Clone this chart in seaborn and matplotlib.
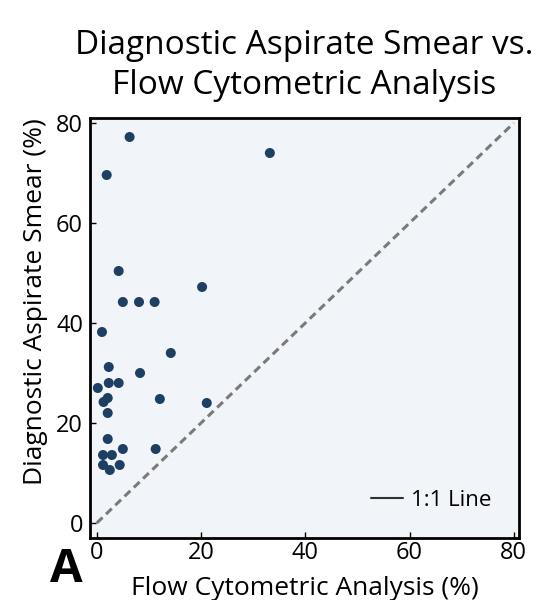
import matplotlib
matplotlib.use('Agg')
import matplotlib.pyplot as plt
import seaborn as sns
import pandas as pd
from matplotlib.lines import Line2D

# values
flow = [6.3, 1.9, 33.2, 4.2, 5.0, 8.1, 11.1, 20.2, 1.0, 14.2, 2.3, 8.3, 2.3, 4.2,
        0.2, 1.3, 2.1, 12.1, 2.1, 21.1, 2.1, 5.0, 11.3, 1.2, 2.9, 1.2, 2.5, 4.4]
smear = [77.2, 69.6, 74.0, 50.4, 44.2, 44.2, 44.2, 47.2, 38.2, 34.0, 31.2, 30.0, 28.0, 28.0,
         27.0, 24.2, 25.0, 24.8, 22.0, 24.0, 16.8, 14.8, 14.8, 13.6, 13.6, 11.6, 10.6, 11.6]
ref_line = [0, 80]
ticks = [0, 20, 40, 60, 80]

data = pd.DataFrame({'flow': flow, 'smear': smear})

sns.set_style('ticks')
plt.rcParams['font.family'] = ['Open Sans', 'DejaVu Sans']
plt.rcParams['text.color'] = 'black'
plt.rcParams['axes.labelcolor'] = 'black'
plt.rcParams['xtick.color'] = 'black'
plt.rcParams['ytick.color'] = 'black'

fig = plt.figure(figsize=(5.5, 6), dpi=100)
ax = fig.add_axes([90 / 550, 62 / 600, 429 / 550, 420 / 600])
ax.set_facecolor('#f1f4f8')

sns.lineplot(x=ref_line, y=ref_line, ax=ax, color='#7a7a7a', linestyle=(0, (2.6, 1.6)),
             linewidth=2.2)
sns.scatterplot(data=data, x='flow', y='smear', ax=ax, color='#1d3f63', s=52,
                edgecolor='none', zorder=3)

ax.set_xlim(-1.3, 81)
ax.set_ylim(-3, 81)
ax.set_xticks(ticks)
ax.set_yticks(ticks)
ax.tick_params(direction='in', length=4, width=1, labelsize=17)
ax.tick_params(axis='x', pad=2)
ax.tick_params(axis='y', pad=5)
for s in ax.spines.values():
    s.set_linewidth(2)
    s.set_color('black')

ax.set_xlabel('Flow Cytometric Analysis (%)', fontsize=19, labelpad=8)
ax.set_ylabel('Diagnostic Aspirate Smear (%)', fontsize=19, labelpad=6)
ax.yaxis.label.set_y(0.562)
ax.set_title('Diagnostic Aspirate Smear vs.\nFlow Cytometric Analysis', fontsize=24,
             pad=17, linespacing=1.3)

handle = Line2D([0], [0], color='#303030', linewidth=1.5)
ax.legend([handle], ['1:1 Line'], loc='center right', bbox_to_anchor=(0.935, 0.09),
          frameon=False, fontsize=16, handlelength=1.45, handletextpad=0.35,
          borderaxespad=0, borderpad=0)

fig.text(50 / 550, 18 / 600, 'A', fontsize=34, fontweight='bold', ha='left', va='baseline')

fig.savefig('out.png', dpi=100)
